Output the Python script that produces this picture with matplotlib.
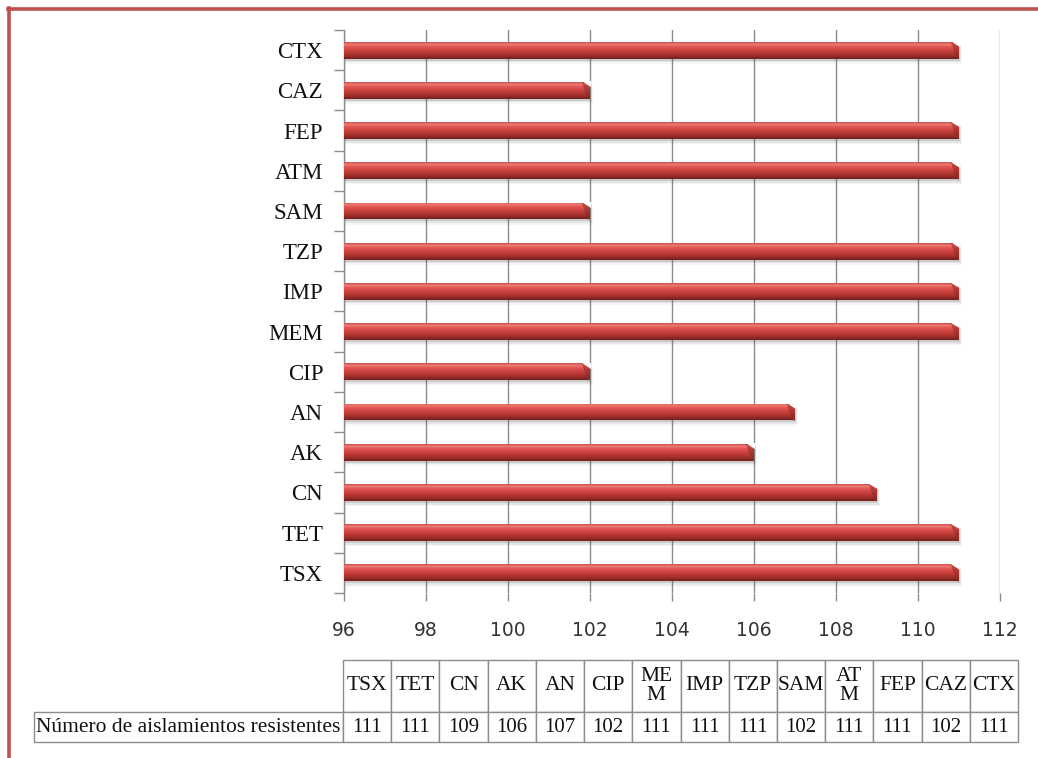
import numpy as np
import matplotlib
matplotlib.use("Agg")
import matplotlib.pyplot as plt
from matplotlib.colors import LinearSegmentedColormap
from matplotlib.lines import Line2D
from matplotlib.patches import Polygon

# Antibiotics (bottom to top of the bar chart) and resistant isolate counts
antibiotics = ["TSX", "TET", "CN", "AK", "AN", "CIP", "MEM", "IMP",
               "TZP", "SAM", "ATM", "FEP", "CAZ", "CTX"]
resistant = [111, 111, 109, 106, 107, 102, 111, 111, 111, 102, 111, 111, 102, 111]
table_headers = ["TSX", "TET", "CN", "AK", "AN", "CIP", "ME\nM", "IMP",
                 "TZP", "SAM", "AT\nM", "FEP", "CAZ", "CTX"]
row_label = "Número de aislamientos resistentes"
x_ticks = [96, 98, 100, 102, 104, 106, 108, 110, 112]
x_min, x_max = 96, 112

W, H = 1038, 758
fig = plt.figure(figsize=(W / 100, H / 100), dpi=100)
fig.patch.set_facecolor("white")

# axes placed in pixel terms
ax_l, ax_r, ax_t, ax_b = 344, 1000, 30, 593
ax = fig.add_axes([ax_l / W, 1 - ax_b / H, (ax_r - ax_l) / W, (ax_b - ax_t) / H])

y = np.arange(len(antibiotics))
vals = np.array(resistant, dtype=float)
bar_h = 0.42
grid_col = "#8c8c8c"

# soft drop shadow beneath the bars
for off, a in [(0.05, 0.18), (0.09, 0.10), (0.13, 0.05)]:
    ax.barh(y - off, vals - x_min + off * 0.6, left=x_min, height=bar_h,
            color="#555555", alpha=a, zorder=2, linewidth=0)

# bars start at the axis minimum and end at each count
bars = ax.barh(y, vals - x_min, left=x_min, height=bar_h, color="#d04542",
               zorder=3, linewidth=0)

# cylinder-like vertical shading, clipped to each bar
shade = LinearSegmentedColormap.from_list(
    "shade",
    [(0.0, "#6e1f1d"), (0.12, "#8f2926"), (0.35, "#b73834"), (0.55, "#d04542"),
     (0.75, "#e45a55"), (0.88, "#f17f79"), (1.0, "#c44a46")])
grad = np.linspace(0, 1, 64).reshape(-1, 1)
for bar in bars:
    x0, y0 = bar.get_x(), bar.get_y()
    w, h = bar.get_width(), bar.get_height()
    im = ax.imshow(grad, extent=[x0, x0 + w, y0, y0 + h], origin="lower",
                   aspect="auto", cmap=shade, zorder=4, interpolation="bicubic")
    im.set_clip_path(bar)
    # bevelled end cap
    xe, yt, yb = x0 + w, y0 + h, y0
    ax.add_patch(Polygon([(xe - 0.2, yt + 0.01), (xe + 0.02, yt + 0.01),
                          (xe + 0.02, yt - 0.13)], closed=True,
                         facecolor="white", edgecolor="none", zorder=5))
    ax.add_patch(Polygon([(xe - 0.2, yt), (xe, yt - 0.13), (xe, yb),
                          (xe - 0.06, yb)], closed=True,
                         facecolor="#8e2a27", alpha=0.55, edgecolor="none", zorder=5))

ax.set_xlim(x_min, x_max)
ax.set_ylim(-0.5, len(antibiotics) - 0.5)

ax.set_xticks(x_ticks)
ax.set_xticklabels([str(t) for t in x_ticks], family="DejaVu Sans",
                   fontsize=13.5, color="#333333")
ax.tick_params(axis="x", length=6, color=grid_col, pad=14, width=1)
ax.xaxis.grid(True, color=grid_col, linewidth=1, zorder=0)
ax.set_axisbelow(True)

ax.set_yticks(y)
ax.set_yticklabels(antibiotics, family="Liberation Serif", fontsize=16.5,
                   color="#111111")
ax.set_yticks(np.arange(-0.5, len(antibiotics), 1), minor=True)
ax.tick_params(axis="y", which="major", length=0, pad=15)
ax.tick_params(axis="y", which="minor", length=7, color=grid_col, width=1)

for s in ["top", "right", "bottom"]:
    ax.spines[s].set_visible(False)
ax.spines["left"].set_color(grid_col)
ax.spines["left"].set_linewidth(1)

# data table under the chart
pw = ax_r - ax_l
ph = ax_b - ax_t
tb_l, tb_r, tb_t, tb_mid, tb_b = 343, 1018, 660, 712, 742
lab_l = 34
tbl = ax.table(cellText=[[str(v) for v in resistant]], rowLabels=[row_label],
               colLabels=table_headers, cellLoc="center", rowLoc="left",
               bbox=[(tb_l - ax_l) / pw, (ax_b - tb_b) / ph,
                     (tb_r - tb_l) / pw, (tb_b - tb_t) / ph])
tbl.auto_set_font_size(False)
# keep the row-label column at a fixed width
tbl._autoColumns = [c for c in tbl._autoColumns if c != -1]
col_w = (tb_r - tb_l) / len(antibiotics) / pw
for (r, c), cell in tbl.get_celld().items():
    cell.set_edgecolor("#8c8c8c")
    cell.set_linewidth(1)
    txt = cell.get_text()
    txt.set_family("Liberation Serif")
    txt.set_color("#111111")
    if c == -1:
        cell.set_width((tb_l - lab_l) / pw)
        cell.set_height((tb_b - tb_mid) / ph)
        cell.PAD = 0.006
        txt.set_fontsize(15.5)
    else:
        cell.set_width(col_w)
        if r == 0:
            cell.set_height((tb_mid - tb_t) / ph)
            txt.set_fontsize(15.5)
            txt.set_linespacing(1.0)
        else:
            cell.set_height((tb_b - tb_mid) / ph)
            txt.set_fontsize(15)

# red frame (top and left edges)
frame_col = "#c0504d"
fig.add_artist(Line2D([8 / W, 1.0], [1 - 9 / H, 1 - 9 / H], color=frame_col,
                      linewidth=2.6, transform=fig.transFigure))
fig.add_artist(Line2D([9 / W, 9 / W], [1 - 8 / H, 0.0], color=frame_col,
                      linewidth=2.6, transform=fig.transFigure))

fig.savefig("out.png", dpi=100, facecolor="white")
